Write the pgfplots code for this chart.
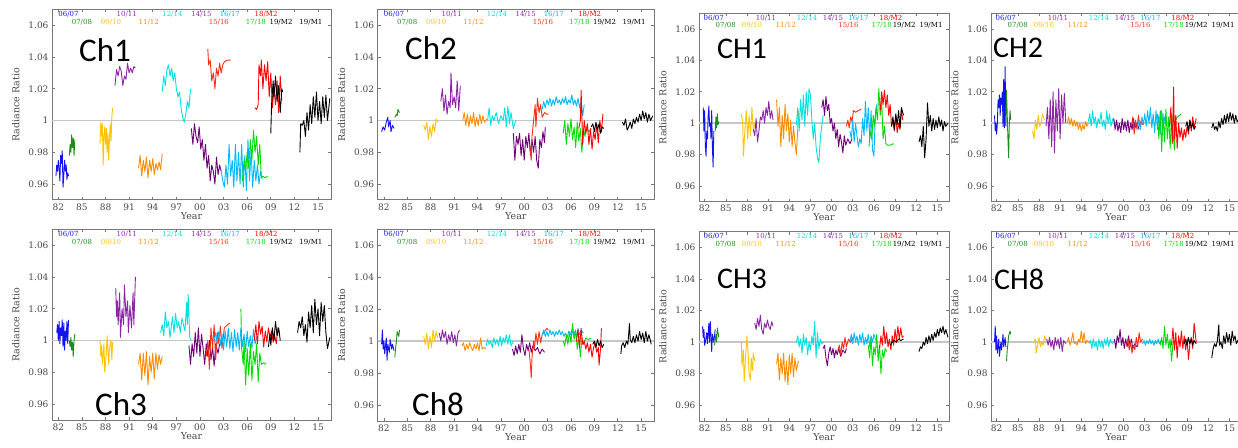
\documentclass[border=0pt]{standalone}
\usepackage{fontspec}
\setmainfont{DejaVu Serif}
\newfontfamily\chfont{Carlito}
\usepackage{pgfplots}
\pgfplotsset{compat=1.18}

\definecolor{c0607}{RGB}{20,20,240}
\definecolor{c0708}{RGB}{30,140,30}
\definecolor{c0910}{RGB}{255,195,0}
\definecolor{c1011}{RGB}{140,40,165}
\definecolor{c1112}{RGB}{255,140,0}
\definecolor{c1214}{RGB}{0,225,225}
\definecolor{c1415}{RGB}{110,0,120}
\definecolor{c1516}{RGB}{255,45,20}
\definecolor{c1617}{RGB}{0,185,255}
\definecolor{c1718}{RGB}{0,220,0}
\definecolor{c18M2}{RGB}{255,0,0}
\definecolor{axgray}{RGB}{120,120,120}
\definecolor{lblgray}{RGB}{70,70,70}

\tikzset{hd/.style={font=\fontsize{7}{7}\selectfont, inner sep=0pt}}
\pgfplotsset{
  rr/.style={
    scale only axis, anchor=south west,
    xmin=1981.2, xmax=2016.65, ymin=0.95, ymax=1.07,
    xtick={1982,1985,1988,1991,1994,1997,2000,2003,2006,2009,2012,2015},
    xticklabels={82,85,88,91,94,97,00,03,06,09,12,15},
    ytick={0.96,0.98,1,1.02,1.04,1.06},
    yticklabels={0.96,0.98,1,1.02,1.04,1.06},
    /pgf/number format/assume math mode=true,
    axis line style={axgray, line width=1pt},
    tick style={axgray, line width=0.6pt},
    tick align=inside, major tick length=3pt,
    ticklabel style={font=\fontsize{9}{9}\selectfont, text=lblgray},
    label style={font=\fontsize{9.5}{9.5}\selectfont, text=lblgray},
    xlabel={Year}, ylabel={Radiance Ratio},
    xlabel shift=-5pt, ylabel shift=2pt,
    every axis plot/.append style={line width=0.9pt, no markers, line join=round},
  },
}

\newcommand{\refline}{\addplot[gray!45, line width=1.8pt] coordinates {(1981.2,1)(2016.65,1)};}
\newcommand{\hdr}{%
  \node[hd, text=c0607] at (axis cs:1983.3,1.0670) {06/07};
  \node[hd, text=c1011] at (axis cs:1990.7,1.0670) {10/11};
  \node[hd, text=c1214] at (axis cs:1996.5,1.0670) {12/14};
  \node[hd, text=c1011] at (axis cs:2000.2,1.0670) {14/15};
  \node[hd, text=c1617] at (axis cs:2003.8,1.0670) {16/17};
  \node[hd, text=c18M2] at (axis cs:2008.4,1.0670) {18/M2};
  \node[hd, text=c0708] at (axis cs:1985.0,1.0621) {07/08};
  \node[hd, text=c0910] at (axis cs:1988.7,1.0621) {09/10};
  \node[hd, text=c1112] at (axis cs:1993.5,1.0621) {11/12};
  \node[hd, text=c1516] at (axis cs:2002.4,1.0621) {15/16};
  \node[hd, text=c1718] at (axis cs:2007.1,1.0621) {17/18};
  \node[hd, text=black] at (axis cs:2010.3,1.0621) {19/M2};
  \node[hd, text=black] at (axis cs:2014.1,1.0621) {19/M1};
}

\begin{document}
\begin{tikzpicture}[x=1pt,y=1pt]
\path[use as bounding box] (0,0) rectangle (1238,447);
\clip (0,0) rectangle (1238,447);

% ---------- Ch1 ----------
\begin{axis}[rr, at={(52pt,247pt)}, width=279pt, height=190.7pt]
\refline
\hdr
\addplot[c0607] coordinates {(1981.7,0.965)(1981.8,0.972)(1981.9,0.968)(1982.0,0.975)(1982.1,0.970)(1982.2,0.962)(1982.3,0.978)(1982.4,0.973)(1982.5,0.981)(1982.6,0.958)(1982.7,0.966)(1982.8,0.975)(1982.9,0.968)(1983.0,0.972)(1983.1,0.963)(1983.2,0.967)(1983.3,0.965)};
\addplot[c0708] coordinates {(1983.4,0.978)(1983.5,0.985)(1983.6,0.980)(1983.7,0.991)(1983.8,0.983)(1983.9,0.989)(1984.0,0.978)(1984.1,0.988)};
\addplot[c0910] coordinates {(1987.3,0.985)(1987.4,0.999)(1987.5,0.990)(1987.6,0.998)(1987.7,0.972)(1987.8,0.990)(1987.9,0.996)(1988.0,0.985)(1988.1,0.995)(1988.2,0.980)(1988.3,0.992)(1988.4,0.975)(1988.5,0.988)(1988.6,0.998)(1988.7,0.987)(1988.8,1.002)(1988.9,1.008)};
\addplot[c1011] coordinates {(1989.2,1.022)(1989.4,1.032)(1989.6,1.028)(1989.8,1.034)(1990.0,1.031)(1990.2,1.022)(1990.4,1.028)(1990.6,1.026)(1990.8,1.036)(1991.0,1.030)(1991.2,1.033)(1991.4,1.030)(1991.6,1.034)(1991.8,1.033)};
\addplot[c1112] coordinates {(1992.2,0.970)(1992.4,0.978)(1992.6,0.965)(1992.8,0.975)(1993.0,0.968)(1993.2,0.977)(1993.4,0.964)(1993.6,0.975)(1993.8,0.968)(1994.0,0.976)(1994.2,0.966)(1994.4,0.973)(1994.6,0.969)(1994.8,0.974)(1995.0,0.969)(1995.2,0.979)};
\addplot[c1214] coordinates {(1995.2,1.018)(1995.4,1.028)(1995.6,1.022)(1995.8,1.032)(1996.0,1.035)(1996.2,1.028)(1996.4,1.033)(1996.6,1.025)(1996.8,1.030)(1997.0,1.020)(1997.2,1.015)(1997.4,1.018)(1997.6,1.008)(1997.8,1.002)(1998.0,0.999)(1998.2,1.004)(1998.4,1.012)(1998.6,1.008)(1998.8,1.020)};
\addplot[c1415] coordinates {(1998.9,0.995)(1999.1,0.985)(1999.3,0.998)(1999.5,0.990)(1999.7,0.986)(1999.9,0.996)(2000.1,0.982)(2000.3,0.988)(2000.5,0.975)(2000.7,0.985)(2000.9,0.970)(2001.1,0.978)(2001.3,0.962)(2001.5,0.972)(2001.7,0.968)(2001.9,0.960)(2002.1,0.977)(2002.3,0.966)(2002.5,0.972)(2002.7,0.968)};
\addplot[c1516] coordinates {(2001.0,1.045)(2001.1,1.035)(2001.3,1.038)(2001.5,1.025)(2001.7,1.030)(2001.9,1.020)(2002.1,1.033)(2002.3,1.028)(2002.5,1.036)(2002.7,1.030)(2002.9,1.035)(2003.1,1.037)(2003.5,1.038)(2003.9,1.038)};
\addplot[c1617] coordinates {(2002.7,0.968)(2002.9,0.962)(2003.1,0.958)(2003.3,0.972)(2003.5,0.960)(2003.7,0.985)(2003.9,0.965)(2004.1,0.975)(2004.3,0.958)(2004.5,0.985)(2004.7,0.962)(2004.9,0.980)(2005.1,0.960)(2005.3,0.985)(2005.5,0.958)(2005.7,0.978)(2005.9,0.956)(2006.1,0.988)(2006.3,0.962)(2006.5,0.982)(2006.7,0.958)(2006.9,0.975)(2007.1,0.962)(2007.3,0.972)(2007.5,0.960)(2007.7,0.968)(2007.9,0.963)};
\addplot[c1718] coordinates {(2005.4,0.962)(2005.6,0.975)(2005.8,0.968)(2006.0,0.980)(2006.2,0.970)(2006.4,0.988)(2006.6,0.975)(2006.8,0.994)(2007.0,0.980)(2007.2,0.990)(2007.4,0.972)(2007.6,0.985)(2007.8,0.964)(2008.0,0.965)(2008.3,0.964)(2008.6,0.965)};
\addplot[c18M2] coordinates {(2007.0,1.008)(2007.2,1.007)(2007.4,1.010)(2007.5,1.035)(2007.7,1.028)(2007.8,1.038)(2008.0,1.020)(2008.2,1.035)(2008.4,1.025)(2008.6,1.037)(2008.8,1.015)(2009.0,1.030)(2009.2,1.008)(2009.4,1.020)(2009.6,1.010)(2009.8,1.025)(2010.0,1.005)(2010.2,1.028)(2010.4,1.012)};
\addplot[black] coordinates {(2009.0,0.992)(2009.1,1.010)(2009.3,1.025)(2009.4,1.015)(2009.6,1.028)(2009.8,1.012)(2010.0,1.022)(2010.2,1.005)(2010.4,1.020)(2010.5,1.018)};
\addplot[black] coordinates {(2012.7,0.980)(2012.8,0.998)(2013.0,0.997)(2013.2,1.000)(2013.4,0.990)(2013.6,1.005)(2013.8,0.994)(2014.0,1.010)(2014.2,0.998)(2014.4,1.015)(2014.6,1.002)(2014.8,1.018)(2015.0,1.000)(2015.2,1.012)(2015.4,0.998)(2015.6,1.015)(2015.8,1.002)(2016.0,1.016)(2016.2,1.000)(2016.5,1.014)};
\end{axis}

% ---------- Ch2 ----------
\begin{axis}[rr, at={(377.7pt,247pt)}, width=276.3pt, height=190.7pt]
\refline
\hdr
\addplot[c0607] coordinates {(1981.7,0.993)(1981.9,0.996)(1982.1,0.994)(1982.3,0.999)(1982.5,1.002)(1982.6,0.996)(1982.8,1.000)(1982.9,0.993)(1983.1,0.997)(1983.3,0.995)};
\addplot[c0708] coordinates {(1983.4,1.002)(1983.6,1.004)(1983.7,1.003)(1983.8,1.007)(1984.0,1.005)};
\addplot[c0910] coordinates {(1987.1,0.997)(1987.3,0.994)(1987.5,0.999)(1987.7,0.988)(1987.9,0.996)(1988.1,0.990)(1988.3,0.998)(1988.5,0.993)(1988.7,1.001)(1988.9,0.999)};
\addplot[c1011] coordinates {(1989.3,1.012)(1989.5,1.020)(1989.7,1.006)(1989.9,1.016)(1990.1,1.004)(1990.3,1.012)(1990.5,1.008)(1990.6,1.030)(1990.8,1.010)(1991.0,1.015)(1991.2,1.008)(1991.4,1.025)(1991.6,1.006)(1991.8,1.022)};
\addplot[c1112] coordinates {(1992.1,1.000)(1992.3,1.005)(1992.5,0.997)(1992.7,1.004)(1992.9,0.996)(1993.1,1.003)(1993.3,0.998)(1993.5,1.005)(1993.7,0.996)(1993.9,1.002)(1994.1,0.997)(1994.3,1.004)(1994.5,0.998)(1994.7,1.003)(1994.9,0.999)(1995.2,1.001)};
\addplot[c1214] coordinates {(1995.3,1.000)(1995.5,1.008)(1995.7,0.997)(1995.9,1.003)(1996.1,1.000)(1996.4,1.005)(1996.7,0.998)(1997.0,1.003)(1997.3,1.000)(1997.5,1.008)(1997.7,0.996)(1997.9,1.009)(1998.1,0.998)(1998.3,1.005)(1998.6,0.995)(1998.9,1.000)};
\addplot[c1415] coordinates {(1998.6,0.992)(1998.8,0.975)(1999.0,0.990)(1999.2,0.985)(1999.4,0.992)(1999.6,0.978)(1999.8,0.988)(2000.0,0.975)(2000.2,0.990)(2000.4,0.983)(2000.6,0.992)(2000.8,0.978)(2001.0,0.988)(2001.2,0.980)(2001.4,0.990)(2001.6,0.975)(2001.8,0.970)(2002.0,0.988)(2002.2,0.983)(2002.4,0.993)(2002.6,0.986)(2002.7,0.996)};
\addplot[c1516] coordinates {(2000.7,0.985)(2000.9,0.975)(2001.0,0.990)(2001.2,1.000)(2001.4,1.010)(2001.5,0.996)(2001.7,1.014)(2001.9,1.005)(2002.1,1.010)(2002.3,1.002)(2002.6,1.005)(2002.9,1.004)(2003.1,1.004)};
\addplot[c1617] coordinates {(2002.3,1.007)(2002.5,1.012)(2002.7,1.008)(2002.9,1.013)(2003.1,1.010)(2003.3,1.014)(2003.5,1.009)(2003.7,1.013)(2003.9,1.010)(2004.1,1.015)(2004.3,1.011)(2004.5,1.013)(2004.7,1.010)(2004.9,1.014)(2005.1,1.011)(2005.3,1.015)(2005.5,1.010)(2005.7,1.013)(2005.9,1.011)(2006.1,1.016)(2006.3,1.010)(2006.5,1.013)(2006.7,1.009)(2006.9,1.014)(2007.1,1.008)(2007.3,1.012)(2007.5,1.003)(2007.7,1.010)};
\addplot[c1718] coordinates {(2005.0,0.992)(2005.2,1.000)(2005.4,0.985)(2005.6,0.998)(2005.8,0.990)(2006.0,1.001)(2006.2,0.988)(2006.4,0.996)(2006.6,0.983)(2006.8,0.999)(2007.0,0.987)(2007.2,0.995)(2007.4,0.980)(2007.6,0.995)(2007.8,0.990)(2008.0,0.996)(2008.3,0.993)(2008.6,0.995)};
\addplot[c18M2] coordinates {(2007.0,0.995)(2007.2,1.000)(2007.3,1.019)(2007.5,0.985)(2007.7,1.000)(2007.9,0.992)(2008.1,0.998)(2008.3,0.985)(2008.5,0.995)(2008.7,0.982)(2008.9,0.993)(2009.1,0.988)(2009.3,0.998)(2009.5,0.986)(2009.7,1.000)(2009.9,0.993)(2010.1,1.004)};
\addplot[black] coordinates {(2008.6,0.996)(2008.8,0.998)(2009.0,0.993)(2009.2,0.999)(2009.4,0.994)(2009.6,0.998)(2009.8,0.992)(2010.0,0.996)(2010.2,0.995)};
\addplot[black] coordinates {(2012.6,0.999)(2012.8,0.997)(2013.0,1.001)(2013.2,0.994)(2013.4,0.996)(2013.6,0.999)(2013.8,0.995)(2014.0,1.001)(2014.2,0.998)(2014.4,1.002)(2014.6,0.999)(2014.8,1.004)(2015.0,1.000)(2015.2,1.006)(2015.4,1.001)(2015.6,1.005)(2015.8,0.999)(2016.0,1.004)(2016.2,1.000)(2016.5,1.003)};
\end{axis}

% ---------- CH1 ----------
\begin{axis}[rr, at={(699pt,245.3pt)}, width=250pt, height=188.4pt]
\refline
\hdr
\addplot[c0607] coordinates {(1981.8,1.010)(1981.9,0.995)(1982.0,1.008)(1982.1,0.985)(1982.2,0.979)(1982.3,0.995)(1982.4,0.990)(1982.5,1.005)(1982.6,1.011)(1982.7,0.998)(1982.8,1.000)(1982.9,0.990)(1983.0,1.008)(1983.1,0.985)(1983.2,0.972)(1983.3,0.995)};
\addplot[c0708] coordinates {(1983.5,0.995)(1983.6,1.004)(1983.7,0.997)(1983.8,1.006)(1983.9,0.999)(1984.0,1.001)};
\addplot[c0910] coordinates {(1987.2,1.006)(1987.4,1.000)(1987.5,0.979)(1987.7,0.995)(1987.9,1.008)(1988.1,0.990)(1988.3,1.005)(1988.5,0.992)(1988.7,1.010)(1988.9,0.995)(1989.1,1.000)};
\addplot[c1011] coordinates {(1988.9,0.996)(1989.1,0.992)(1989.3,1.003)(1989.5,0.988)(1989.7,0.995)(1989.9,1.004)(1990.1,1.002)(1990.3,1.008)(1990.5,1.000)(1990.7,1.010)(1990.9,1.005)(1991.1,1.014)(1991.3,1.003)(1991.5,1.008)(1991.7,1.002)};
\addplot[c1112] coordinates {(1992.2,1.015)(1992.4,0.998)(1992.6,1.010)(1992.8,0.985)(1993.0,1.005)(1993.2,0.990)(1993.4,1.012)(1993.6,0.995)(1993.8,1.006)(1994.0,0.988)(1994.2,1.002)(1994.4,0.985)(1994.6,0.998)(1994.8,0.988)(1995.0,0.980)(1995.2,0.996)(1995.3,1.008)};
\addplot[c1214] coordinates {(1995.0,0.999)(1995.2,1.010)(1995.4,0.995)(1995.6,1.015)(1995.8,1.002)(1996.0,1.018)(1996.2,0.998)(1996.4,1.020)(1996.6,1.005)(1996.8,1.022)(1997.0,1.018)(1997.2,1.002)(1997.4,0.990)(1997.6,1.000)(1997.8,0.985)(1998.0,0.978)(1998.2,0.975)(1998.4,0.990)(1998.6,0.998)(1998.8,1.005)};
\addplot[c1415] coordinates {(1998.6,1.010)(1998.8,1.015)(1999.0,1.005)(1999.2,1.017)(1999.4,1.008)(1999.6,1.012)(1999.8,1.000)(2000.0,1.003)(2000.2,0.995)(2000.4,1.000)(2000.6,0.990)(2000.8,0.996)(2001.0,0.985)(2001.2,0.993)(2001.4,0.988)(2001.6,0.981)(2001.8,0.992)(2002.0,0.986)(2002.3,0.990)(2002.6,0.987)(2002.9,0.990)};
\addplot[c1516] coordinates {(2002.1,0.998)(2002.3,1.002)(2002.5,0.997)(2002.7,1.004)(2002.9,1.001)(2003.1,1.008)(2003.4,1.007)(2003.8,1.008)(2004.2,1.009)};
\addplot[c1617] coordinates {(2002.6,0.995)(2002.8,0.990)(2003.0,1.002)(2003.2,0.988)(2003.4,1.000)(2003.6,0.992)(2003.8,0.985)(2004.0,0.990)(2004.2,0.987)(2004.4,1.003)(2004.6,0.992)(2004.8,1.014)(2005.0,0.995)(2005.2,1.010)(2005.4,0.990)(2005.6,1.008)(2005.8,0.983)(2006.0,0.979)(2006.2,1.005)(2006.4,1.012)};
\addplot[c1718] coordinates {(2005.3,0.985)(2005.5,0.995)(2005.7,0.990)(2005.9,1.005)(2006.1,0.998)(2006.3,1.010)(2006.5,1.002)(2006.7,1.022)(2006.9,1.005)(2007.1,1.015)(2007.3,0.990)(2007.5,0.998)(2007.7,0.987)(2007.9,0.986)(2008.3,0.986)(2008.8,0.987)};
\addplot[c18M2] coordinates {(2006.9,1.008)(2007.1,1.020)(2007.3,1.012)(2007.5,1.021)(2007.7,1.010)(2007.9,1.018)(2008.1,1.005)(2008.3,1.012)(2008.5,0.998)(2008.7,1.002)(2008.9,0.995)(2009.1,1.005)(2009.3,0.994)(2009.5,1.000)(2009.7,0.996)(2009.9,1.008)(2010.1,1.002)};
\addplot[black] coordinates {(2008.5,0.998)(2008.7,1.004)(2008.9,0.996)(2009.1,1.006)(2009.3,0.999)(2009.5,1.008)(2009.7,0.997)(2009.9,1.010)(2010.2,1.005)};
\addplot[black] coordinates {(2012.4,0.988)(2012.6,0.992)(2012.8,0.985)(2013.0,0.998)(2013.2,0.978)(2013.4,0.990)(2013.6,1.013)(2013.8,0.998)(2014.0,1.005)(2014.2,0.995)(2014.4,1.003)(2014.6,0.996)(2014.8,1.002)(2015.0,0.997)(2015.2,1.004)(2015.4,0.998)(2015.6,1.002)(2015.8,0.995)(2016.0,1.001)(2016.2,0.998)(2016.5,1.000)};
\end{axis}

% ---------- CH2 ----------
\begin{axis}[rr, at={(991pt,245.3pt)}, width=250pt, height=188.4pt]
\refline
\hdr
\addplot[c0607] coordinates {(1981.7,1.005)(1981.8,0.995)(1981.9,1.000)(1982.0,0.993)(1982.1,1.000)(1982.2,1.015)(1982.3,1.010)(1982.4,1.018)(1982.5,1.005)(1982.6,1.016)(1982.7,1.012)(1982.8,1.020)(1982.9,0.998)(1983.0,1.028)(1983.1,0.997)(1983.2,1.036)(1983.3,0.998)};
\addplot[c0708] coordinates {(1983.3,1.000)(1983.4,1.021)(1983.5,1.005)(1983.6,0.990)(1983.7,0.978)(1983.8,1.000)(1983.9,1.008)(1984.0,1.002)};
\addplot[c0910] coordinates {(1987.1,0.995)(1987.3,0.990)(1987.5,1.002)(1987.7,0.996)(1987.9,1.005)(1988.1,0.998)(1988.3,1.000)(1988.5,1.006)(1988.8,1.002)};
\addplot[c1011] coordinates {(1989.0,0.998)(1989.2,1.010)(1989.4,0.990)(1989.6,1.015)(1989.8,0.985)(1990.0,1.020)(1990.2,0.981)(1990.4,1.015)(1990.6,0.995)(1990.8,1.022)(1991.0,0.990)(1991.2,1.018)(1991.4,1.000)(1991.6,1.019)(1991.8,1.000)};
\addplot[c1112] coordinates {(1992.0,1.000)(1992.2,1.004)(1992.4,0.999)(1992.6,1.003)(1992.8,0.998)(1993.0,1.002)(1993.2,0.998)(1993.4,1.001)(1993.6,0.996)(1993.8,1.000)(1994.0,0.995)(1994.2,0.999)(1994.4,0.996)(1994.6,1.001)(1994.8,0.998)(1995.0,1.000)};
\addplot[c1214] coordinates {(1995.0,1.001)(1995.2,1.006)(1995.4,0.998)(1995.6,1.008)(1995.8,1.000)(1996.0,1.004)(1996.2,0.997)(1996.4,1.003)(1996.6,1.000)(1996.8,1.007)(1997.0,0.998)(1997.2,1.002)(1997.4,0.996)(1997.6,1.008)(1997.8,1.000)(1998.0,1.006)(1998.2,0.998)(1998.5,1.003)(1998.8,1.000)};
\addplot[c1415] coordinates {(1998.6,1.003)(1998.8,0.996)(1999.0,1.002)(1999.2,0.995)(1999.4,1.000)(1999.6,0.994)(1999.8,1.003)(2000.0,0.996)(2000.2,1.001)(2000.4,0.995)(2000.6,1.002)(2000.8,0.994)(2001.0,1.000)(2001.2,0.996)(2001.4,1.003)(2001.6,0.997)(2001.9,1.000)(2002.2,0.996)};
\addplot[c1516] coordinates {(2001.1,0.998)(2001.3,1.004)(2001.5,0.993)(2001.7,1.002)(2001.9,0.996)(2002.1,1.005)(2002.3,0.998)(2002.5,1.002)(2002.7,0.999)};
\addplot[c1617] coordinates {(2002.0,0.998)(2002.2,1.002)(2002.4,0.996)(2002.6,1.004)(2002.8,0.999)(2003.0,1.006)(2003.2,0.998)(2003.4,1.008)(2003.6,1.000)(2003.8,1.010)(2004.0,0.997)(2004.2,1.006)(2004.4,0.994)(2004.6,1.008)(2004.8,0.996)(2005.0,1.005)(2005.2,0.993)(2005.4,1.008)(2005.6,0.997)(2005.8,1.004)(2006.0,0.999)};
\addplot[c1718] coordinates {(2004.8,1.006)(2005.0,0.990)(2005.2,1.008)(2005.4,0.982)(2005.6,1.006)(2005.8,0.988)(2006.0,1.009)(2006.2,0.990)(2006.4,1.004)(2006.6,0.984)(2006.8,1.006)(2007.0,0.995)(2007.2,0.983)(2007.4,1.002)(2007.6,1.004)(2007.9,1.005)(2008.2,1.006)};
\addplot[c18M2] coordinates {(2006.5,0.998)(2006.7,1.010)(2006.9,0.987)(2007.1,1.023)(2007.2,0.990)(2007.4,1.005)(2007.6,0.984)(2007.8,1.000)(2008.0,0.991)(2008.2,0.997)(2008.4,0.989)(2008.6,0.996)(2008.8,0.991)(2009.0,0.998)(2009.2,0.993)(2009.4,1.002)(2009.6,0.995)(2009.8,1.004)(2010.0,0.997)(2010.3,1.003)};
\addplot[black] coordinates {(2008.8,0.998)(2009.0,1.001)(2009.2,0.995)(2009.4,1.002)(2009.6,0.997)(2009.8,1.000)(2010.0,0.996)(2010.2,0.998)};
\addplot[black] coordinates {(2012.5,0.997)(2012.7,1.000)(2012.9,0.996)(2013.1,0.998)(2013.3,0.995)(2013.5,1.001)(2013.7,0.997)(2013.9,1.003)(2014.1,0.999)(2014.3,1.005)(2014.5,1.000)(2014.7,1.006)(2014.9,1.001)(2015.1,1.007)(2015.3,1.002)(2015.5,1.006)(2015.7,1.000)(2015.9,1.005)(2016.1,1.001)(2016.4,1.003)};
\end{axis}

% ---------- Ch3 ----------
\begin{axis}[rr, at={(52pt,27pt)}, width=279pt, height=190.7pt]
\refline
\hdr
\addplot[c0607] coordinates {(1981.8,1.005)(1981.9,1.010)(1982.0,1.000)(1982.1,1.012)(1982.2,0.998)(1982.3,1.008)(1982.4,1.003)(1982.5,1.013)(1982.6,0.996)(1982.7,1.011)(1982.8,0.994)(1982.9,1.006)(1983.0,1.000)(1983.1,1.012)(1983.2,0.998)(1983.3,1.013)};
\addplot[c0708] coordinates {(1983.4,1.000)(1983.5,0.996)(1983.6,1.002)(1983.7,0.994)(1983.8,0.999)(1983.9,0.990)(1984.0,1.000)(1984.1,1.004)};
\addplot[c0910] coordinates {(1987.3,1.000)(1987.4,0.990)(1987.5,0.997)(1987.6,0.985)(1987.8,0.998)(1987.9,0.980)(1988.1,0.992)(1988.2,1.003)(1988.4,0.985)(1988.5,0.995)(1988.7,1.000)(1988.8,0.988)(1988.9,0.999)};
\addplot[c1011] coordinates {(1989.3,1.033)(1989.4,1.015)(1989.5,1.025)(1989.6,1.010)(1989.8,1.030)(1989.9,1.002)(1990.1,1.020)(1990.3,1.010)(1990.4,1.035)(1990.6,1.015)(1990.8,1.025)(1990.9,1.005)(1991.1,1.022)(1991.3,1.008)(1991.5,1.030)(1991.6,1.010)(1991.8,1.040)};
\addplot[c1112] coordinates {(1992.2,0.985)(1992.4,0.992)(1992.6,0.975)(1992.8,0.992)(1993.0,0.978)(1993.2,0.993)(1993.4,0.972)(1993.6,0.990)(1993.8,0.980)(1994.0,0.992)(1994.2,0.976)(1994.4,0.992)(1994.6,0.982)(1994.8,0.991)(1995.0,0.985)(1995.2,0.990)};
\addplot[c1214] coordinates {(1995.0,1.005)(1995.2,1.010)(1995.4,1.003)(1995.6,1.018)(1995.8,1.008)(1996.0,1.012)(1996.2,1.002)(1996.5,1.015)(1996.7,1.005)(1996.9,1.017)(1997.1,1.008)(1997.3,1.012)(1997.5,1.005)(1997.7,1.014)(1997.9,1.010)(1998.1,1.006)(1998.3,1.024)(1998.4,1.010)(1998.5,1.029)(1998.7,1.002)(1998.9,1.000)};
\addplot[c1415] coordinates {(1998.6,0.997)(1998.8,0.985)(1999.0,0.998)(1999.2,0.990)(1999.4,1.005)(1999.6,0.992)(1999.8,1.008)(2000.0,0.990)(2000.2,1.004)(2000.4,0.995)(2000.6,0.985)(2000.8,0.998)(2001.0,0.990)(2001.2,1.000)(2001.4,0.988)(2001.6,0.996)(2001.8,0.984)(2002.0,0.998)(2002.3,0.992)(2002.5,0.998)};
\addplot[c1516] coordinates {(2000.8,0.990)(2001.0,1.000)(2001.2,0.982)(2001.4,1.008)(2001.6,0.995)(2001.8,1.010)(2002.0,0.988)(2002.2,1.005)(2002.4,0.998)(2002.6,1.009)(2002.8,0.995)(2003.1,1.008)(2003.5,1.010)(2003.8,1.011)};
\addplot[c1617] coordinates {(2001.8,1.000)(2002.0,1.005)(2002.2,0.998)(2002.4,1.006)(2002.6,0.997)(2002.8,1.004)(2003.0,0.994)(2003.2,1.006)(2003.4,0.996)(2003.6,1.008)(2003.8,0.995)(2004.0,1.005)(2004.2,0.993)(2004.4,1.007)(2004.6,0.996)(2004.8,1.005)(2005.0,0.994)(2005.2,1.008)(2005.4,0.996)(2005.6,1.004)(2005.8,0.993)(2006.0,1.006)(2006.2,0.996)(2006.4,1.003)(2006.6,0.995)(2006.8,1.007)(2007.0,0.998)(2007.2,1.002)};
\addplot[c1718] coordinates {(2005.2,1.020)(2005.3,0.995)(2005.5,0.985)(2005.6,1.000)(2005.8,0.972)(2006.0,0.995)(2006.2,0.978)(2006.4,0.998)(2006.6,0.975)(2006.8,0.993)(2007.0,0.985)(2007.2,0.998)(2007.4,0.974)(2007.6,0.992)(2007.8,0.985)(2008.1,0.986)(2008.4,0.985)};
\addplot[c18M2] coordinates {(2006.9,1.000)(2007.1,1.010)(2007.3,0.998)(2007.5,1.012)(2007.7,1.004)(2007.9,1.009)(2008.1,0.996)(2008.3,1.006)(2008.5,0.999)(2008.7,1.008)(2008.9,1.002)(2009.1,1.006)(2009.3,0.999)(2009.5,1.003)(2009.7,0.998)(2009.9,1.008)(2010.1,1.004)};
\addplot[black] coordinates {(2008.7,0.996)(2008.9,1.004)(2009.0,0.997)(2009.2,1.008)(2009.4,1.000)(2009.6,1.012)(2009.8,1.003)(2010.0,1.008)(2010.2,1.000)};
\addplot[black] coordinates {(2012.4,1.005)(2012.6,1.012)(2012.8,1.008)(2013.0,1.015)(2013.2,1.003)(2013.4,1.010)(2013.6,0.999)(2013.8,1.018)(2014.0,1.008)(2014.2,1.022)(2014.4,1.005)(2014.6,1.026)(2014.8,1.010)(2015.0,1.020)(2015.2,1.003)(2015.4,1.024)(2015.6,1.012)(2015.8,1.022)(2016.0,1.005)(2016.2,0.995)(2016.5,1.002)};
\end{axis}

% ---------- Ch8 ----------
\begin{axis}[rr, at={(377.7pt,26pt)}, width=276.3pt, height=191.7pt]
\refline
\hdr
\addplot[c0607] coordinates {(1981.7,0.998)(1981.8,1.007)(1981.9,0.995)(1982.0,1.000)(1982.1,0.992)(1982.3,1.002)(1982.4,0.988)(1982.5,0.998)(1982.7,0.993)(1982.8,1.001)(1983.0,0.995)(1983.1,0.998)(1983.3,0.994)};
\addplot[c0708] coordinates {(1983.4,0.990)(1983.5,0.996)(1983.6,1.000)(1983.7,1.006)(1983.9,1.003)(1984.0,1.007)};
\addplot[c0910] coordinates {(1987.1,1.003)(1987.3,0.998)(1987.5,1.005)(1987.7,0.995)(1987.9,1.003)(1988.1,0.996)(1988.3,1.007)(1988.5,1.000)(1988.7,1.006)(1988.9,1.002)};
\addplot[c1011] coordinates {(1989.1,1.005)(1989.3,1.000)(1989.5,1.007)(1989.7,1.002)(1989.9,1.006)(1990.1,0.998)(1990.3,1.004)(1990.5,1.000)(1990.7,1.006)(1990.9,0.999)(1991.1,1.004)(1991.3,0.997)(1991.5,1.005)(1991.7,1.007)};
\addplot[c1112] coordinates {(1992.0,0.997)(1992.2,0.999)(1992.4,0.994)(1992.6,0.998)(1992.8,0.995)(1993.0,0.999)(1993.2,0.996)(1993.4,0.994)(1993.6,0.998)(1993.8,0.995)(1994.0,0.999)(1994.2,0.994)(1994.4,1.002)(1994.6,0.995)(1994.8,0.996)(1995.1,0.995)};
\addplot[c1214] coordinates {(1995.1,0.997)(1995.3,1.001)(1995.5,0.998)(1995.7,1.000)(1995.9,0.996)(1996.1,1.002)(1996.3,0.998)(1996.5,1.001)(1996.7,0.997)(1996.9,1.003)(1997.1,0.997)(1997.3,1.002)(1997.5,0.999)(1997.7,1.004)(1997.9,0.998)(1998.1,1.004)(1998.3,0.997)(1998.6,1.000)};
\addplot[c1415] coordinates {(1998.5,0.995)(1998.7,0.991)(1998.9,0.997)(1999.1,0.992)(1999.3,0.998)(1999.5,0.993)(1999.7,1.004)(1999.9,0.995)(2000.1,0.991)(2000.3,0.998)(2000.5,0.994)(2000.7,0.999)(2000.9,0.993)(2001.1,0.997)(2001.4,0.994)(2001.7,0.996)(2002.0,0.992)(2002.3,0.995)(2002.6,0.993)};
\addplot[c1516] coordinates {(2000.6,0.995)(2000.8,0.985)(2000.9,0.977)(2001.0,0.990)(2001.2,1.000)(2001.3,0.995)(2001.5,1.005)(2001.7,0.998)(2001.9,1.006)(2002.1,0.999)(2002.3,1.004)(2002.6,1.006)(2002.9,1.008)(2003.1,1.007)};
\addplot[c1617] coordinates {(2002.3,1.004)(2002.5,1.007)(2002.7,1.003)(2002.9,1.006)(2003.1,1.003)(2003.3,1.007)(2003.5,1.004)(2003.7,1.006)(2003.9,1.003)(2004.1,1.006)(2004.3,1.004)(2004.5,1.007)(2004.7,1.004)(2004.9,1.006)(2005.1,1.003)(2005.3,1.005)(2005.5,1.002)(2005.7,1.006)(2005.9,1.004)(2006.1,1.007)(2006.3,1.004)(2006.5,1.006)(2006.7,1.003)(2006.9,1.008)(2007.1,1.004)(2007.3,1.007)(2007.6,1.005)};
\addplot[c1718] coordinates {(2005.0,1.000)(2005.2,0.997)(2005.4,1.004)(2005.6,0.998)(2005.8,1.006)(2006.0,0.999)(2006.2,1.011)(2006.4,1.001)(2006.6,1.007)(2006.8,0.995)(2007.0,1.003)(2007.2,0.990)(2007.4,1.002)(2007.6,0.998)(2007.9,1.002)(2008.2,1.001)(2008.6,1.002)};
\addplot[c18M2] coordinates {(2006.7,1.000)(2006.9,1.007)(2007.1,0.996)(2007.3,1.008)(2007.5,0.998)(2007.7,1.000)(2007.9,0.995)(2008.1,0.999)(2008.3,0.993)(2008.5,0.998)(2008.7,0.990)(2008.9,0.996)(2009.1,0.999)(2009.3,0.993)(2009.5,0.996)(2009.6,0.985)(2009.8,0.996)(2009.9,1.008)};
\addplot[black] coordinates {(2008.8,0.998)(2009.0,1.000)(2009.2,0.996)(2009.4,1.001)(2009.6,0.997)(2009.8,1.000)(2010.0,0.996)(2010.2,0.998)};
\addplot[black] coordinates {(2012.4,0.992)(2012.5,0.997)(2012.7,0.999)(2012.9,0.996)(2013.1,1.000)(2013.3,0.998)(2013.5,1.011)(2013.6,1.001)(2013.8,0.999)(2014.0,1.003)(2014.2,0.999)(2014.4,1.004)(2014.6,1.000)(2014.8,1.006)(2015.0,1.001)(2015.2,1.005)(2015.4,0.999)(2015.6,1.006)(2015.8,1.000)(2016.0,1.004)(2016.3,0.998)};
\end{axis}

% ---------- CH3 ----------
\begin{axis}[rr, at={(699pt,26pt)}, width=250pt, height=189.3pt]
\refline
\hdr
\addplot[c0607] coordinates {(1981.7,1.010)(1981.8,1.003)(1981.9,1.008)(1982.0,0.998)(1982.1,1.000)(1982.3,1.006)(1982.4,0.999)(1982.6,1.012)(1982.7,1.000)(1982.8,1.013)(1983.0,0.994)(1983.1,1.005)(1983.3,1.000)(1983.5,1.008)};
\addplot[c0708] coordinates {(1983.4,0.998)(1983.6,1.005)(1983.7,1.000)(1983.8,1.009)(1984.0,1.003)};
\addplot[c0910] coordinates {(1987.2,1.000)(1987.3,0.985)(1987.5,0.995)(1987.6,0.975)(1987.8,0.990)(1987.9,0.998)(1988.0,1.004)(1988.2,0.990)(1988.3,0.980)(1988.5,0.976)(1988.6,0.990)(1988.8,0.982)(1988.9,0.993)(1989.1,0.988)};
\addplot[c1011] coordinates {(1989.1,1.012)(1989.3,1.008)(1989.5,1.015)(1989.7,1.010)(1989.9,1.017)(1990.1,1.008)(1990.3,1.005)(1990.5,1.012)(1990.7,1.009)(1990.9,1.014)(1991.1,1.010)(1991.3,1.008)(1991.5,1.013)(1991.7,1.010)};
\addplot[c1112] coordinates {(1992.2,0.986)(1992.4,0.993)(1992.6,0.976)(1992.8,0.990)(1993.0,0.980)(1993.2,0.993)(1993.4,0.975)(1993.6,0.988)(1993.8,0.973)(1994.0,0.992)(1994.2,0.980)(1994.4,0.993)(1994.6,0.978)(1994.8,0.990)(1995.0,0.982)(1995.3,0.988)};
\addplot[c1214] coordinates {(1995.0,1.000)(1995.2,1.004)(1995.4,0.997)(1995.6,1.002)(1995.8,0.993)(1996.0,1.005)(1996.2,0.998)(1996.4,1.003)(1996.6,0.992)(1996.8,1.000)(1997.0,0.995)(1997.2,1.004)(1997.4,0.998)(1997.6,1.013)(1997.8,0.990)(1998.0,1.006)(1998.2,0.996)(1998.4,1.002)(1998.6,0.999)(1998.9,1.000)};
\addplot[c1415] coordinates {(1998.8,0.996)(1999.0,0.998)(1999.2,0.990)(1999.4,0.985)(1999.6,0.993)(1999.8,0.997)(2000.0,0.992)(2000.2,0.996)(2000.4,0.990)(2000.6,0.995)(2000.8,0.992)(2001.0,0.996)(2001.3,0.991)(2001.6,0.995)(2001.9,0.993)(2002.1,0.996)};
\addplot[c1516] coordinates {(2000.9,0.995)(2001.1,0.998)(2001.3,0.992)(2001.5,1.000)(2001.7,0.996)(2001.9,1.003)(2002.1,0.997)(2002.4,1.002)(2002.7,1.000)(2003.0,1.003)};
\addplot[c1617] coordinates {(2002.6,1.000)(2002.8,1.005)(2003.0,0.999)(2003.2,1.006)(2003.4,1.000)(2003.6,1.004)(2003.8,0.998)(2004.0,1.005)(2004.2,1.000)(2004.4,1.006)(2004.6,0.998)(2004.8,1.003)(2005.0,0.999)(2005.2,1.005)(2005.4,0.997)(2005.6,1.004)(2005.8,1.000)(2006.0,1.005)(2006.3,1.001)};
\addplot[c1718] coordinates {(2005.2,0.998)(2005.4,0.990)(2005.6,1.003)(2005.8,0.985)(2006.0,0.997)(2006.2,0.992)(2006.4,1.005)(2006.6,0.988)(2006.8,0.998)(2007.0,0.980)(2007.2,0.995)(2007.4,0.990)(2007.6,0.996)(2007.8,0.994)};
\addplot[c18M2] coordinates {(2006.8,0.996)(2007.0,1.004)(2007.2,0.998)(2007.4,1.010)(2007.6,0.999)(2007.8,1.006)(2008.0,0.997)(2008.2,1.002)(2008.4,0.995)(2008.6,1.004)(2008.8,0.998)(2009.0,1.008)(2009.2,1.000)(2009.4,1.010)(2009.6,1.002)(2009.8,1.009)(2010.0,1.003)(2010.2,1.004)};
\addplot[black] coordinates {(2008.3,0.998)(2008.6,1.000)(2008.9,1.001)(2009.2,1.000)(2009.5,1.002)(2009.8,1.001)(2010.2,1.002)};
\addplot[black] coordinates {(2012.4,0.994)(2012.6,0.997)(2012.8,0.996)(2013.0,1.000)(2013.2,0.998)(2013.4,1.003)(2013.6,0.999)(2013.8,1.004)(2014.0,1.000)(2014.2,1.005)(2014.4,1.001)(2014.6,1.006)(2014.8,1.003)(2015.0,1.008)(2015.2,1.004)(2015.4,1.009)(2015.6,1.006)(2015.8,1.010)(2016.0,1.005)(2016.2,1.008)(2016.5,1.003)};
\end{axis}

% ---------- CH8 ----------
\begin{axis}[rr, at={(991pt,26pt)}, width=250pt, height=189.3pt]
\refline
\hdr
\addplot[c0607] coordinates {(1981.7,1.000)(1981.8,1.010)(1981.9,0.995)(1982.0,1.004)(1982.1,0.993)(1982.3,1.002)(1982.4,0.991)(1982.6,1.000)(1982.7,0.995)(1982.9,1.005)(1983.0,0.997)(1983.2,1.003)(1983.3,0.997)};
\addplot[c0708] coordinates {(1983.4,0.988)(1983.5,0.995)(1983.6,0.999)(1983.7,1.004)(1983.9,1.007)(1984.0,1.005)};
\addplot[c0910] coordinates {(1987.3,1.000)(1987.5,1.002)(1987.6,0.993)(1987.8,0.998)(1988.0,1.003)(1988.2,0.997)(1988.4,1.000)(1988.6,0.998)(1988.8,1.004)(1989.0,1.001)};
\addplot[c1011] coordinates {(1989.1,1.002)(1989.3,0.998)(1989.5,1.003)(1989.7,0.997)(1989.9,1.001)(1990.1,0.995)(1990.3,1.003)(1990.5,0.998)(1990.7,1.002)(1990.9,0.996)(1991.1,1.003)(1991.3,0.994)(1991.5,1.001)(1991.8,0.999)};
\addplot[c1112] coordinates {(1992.0,1.000)(1992.2,1.003)(1992.4,0.998)(1992.6,1.001)(1992.8,1.006)(1993.0,0.999)(1993.2,1.000)(1993.4,0.998)(1993.6,1.002)(1993.8,1.000)(1994.0,1.007)(1994.2,1.000)(1994.4,1.006)(1994.6,0.999)(1994.8,1.001)(1995.1,1.000)};
\addplot[c1214] coordinates {(1995.1,0.999)(1995.3,1.001)(1995.5,0.996)(1995.7,1.002)(1995.9,0.997)(1996.1,1.000)(1996.3,0.995)(1996.5,1.002)(1996.7,0.997)(1996.9,1.001)(1997.1,0.996)(1997.3,1.002)(1997.5,0.998)(1997.7,1.003)(1997.9,0.997)(1998.1,1.002)(1998.4,0.999)(1998.8,1.001)};
\addplot[c1415] coordinates {(1998.7,1.002)(1998.9,0.996)(1999.1,1.004)(1999.3,1.000)(1999.5,1.008)(1999.7,0.998)(1999.9,1.003)(2000.1,0.996)(2000.3,1.002)(2000.5,0.997)(2000.7,1.004)(2000.9,0.998)(2001.1,1.002)(2001.3,0.996)(2001.6,0.999)(2001.9,0.997)};
\addplot[c1516] coordinates {(2000.4,0.998)(2000.6,1.002)(2000.8,0.995)(2001.0,1.000)(2001.2,0.993)(2001.4,0.998)(2001.6,0.995)(2001.8,1.003)(2002.0,0.997)(2002.2,1.006)(2002.4,1.000)(2002.7,1.002)};
\addplot[c1617] coordinates {(2002.7,0.999)(2002.9,1.001)(2003.1,0.998)(2003.3,1.001)(2003.5,0.999)(2003.7,1.002)(2003.9,0.999)(2004.1,1.001)(2004.3,0.998)(2004.5,1.001)(2004.7,0.999)(2004.9,1.002)(2005.1,0.999)(2005.3,1.001)(2005.6,1.000)};
\addplot[c1718] coordinates {(2005.2,0.998)(2005.4,1.003)(2005.6,0.996)(2005.8,1.010)(2006.0,0.998)(2006.2,1.005)(2006.4,0.996)(2006.6,1.002)(2006.8,0.988)(2007.0,0.999)(2007.2,1.001)};
\addplot[c18M2] coordinates {(2006.8,0.998)(2007.0,1.009)(2007.2,0.995)(2007.4,1.006)(2007.6,0.990)(2007.8,1.004)(2008.0,0.997)(2008.2,1.007)(2008.4,0.996)(2008.6,1.004)(2008.8,0.995)(2009.0,1.002)(2009.2,0.989)(2009.4,0.999)(2009.6,1.003)(2009.8,0.996)(2010.0,1.012)(2010.3,1.000)};
\addplot[black] coordinates {(2008.6,0.999)(2008.8,1.002)(2009.0,0.998)(2009.2,1.003)(2009.4,0.999)(2009.6,1.002)(2009.8,0.998)(2010.0,1.001)(2010.3,0.999)};
\addplot[black] coordinates {(2012.5,0.990)(2012.7,0.996)(2012.9,0.999)(2013.1,0.997)(2013.3,1.001)(2013.5,1.011)(2013.6,0.998)(2013.8,1.000)(2014.0,0.996)(2014.2,1.004)(2014.4,0.999)(2014.6,1.006)(2014.8,1.000)(2015.0,1.005)(2015.2,0.998)(2015.4,1.007)(2015.6,1.001)(2015.8,1.004)(2016.0,0.999)(2016.3,1.002)};
\end{axis}

% panel names
\node[font=\chfont\fontsize{33}{33}\selectfont, inner sep=0pt] at (105,397) {Ch1};
\node[font=\chfont\fontsize{33}{33}\selectfont, inner sep=0pt] at (431,399) {Ch2};
\node[font=\chfont\fontsize{30}{30}\selectfont, inner sep=0pt] at (742,398) {CH1};
\node[font=\chfont\fontsize{30}{30}\selectfont, inner sep=0pt] at (1018,399) {CH2};
\node[font=\chfont\fontsize{33}{33}\selectfont, inner sep=0pt] at (121,43) {Ch3};
\node[font=\chfont\fontsize{33}{33}\selectfont, inner sep=0pt] at (438,43) {Ch8};
\node[font=\chfont\fontsize{30}{30}\selectfont, inner sep=0pt] at (742,168) {CH3};
\node[font=\chfont\fontsize{30}{30}\selectfont, inner sep=0pt] at (1019,168) {CH8};
\end{tikzpicture}
\end{document}
